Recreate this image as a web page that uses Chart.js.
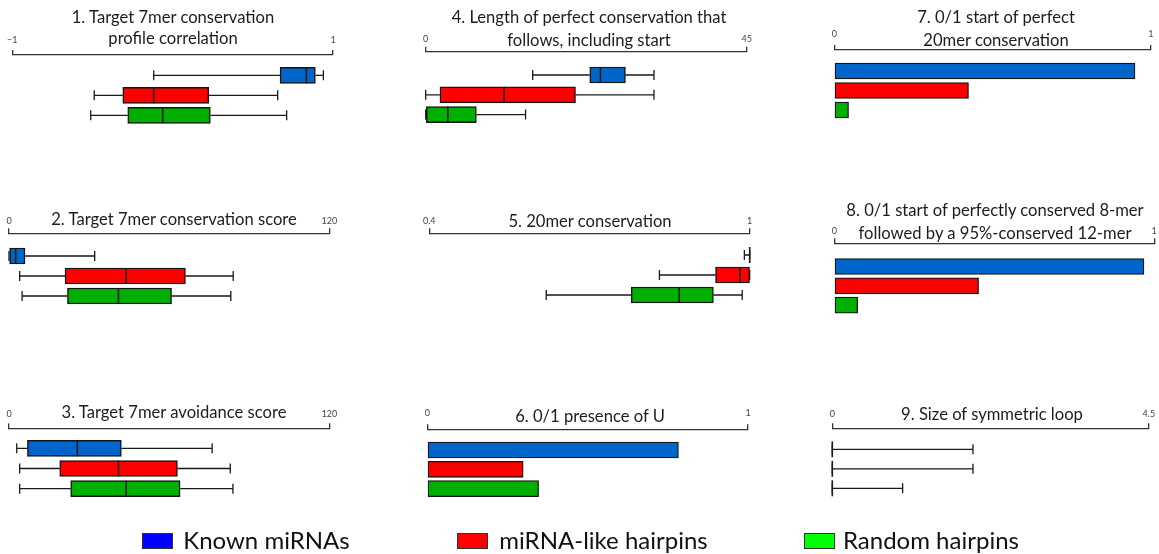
<!DOCTYPE html>
<html>
<head>
<meta charset="utf-8">
<script src="https://cdn.jsdelivr.net/npm/chart.js@4.4.1/dist/chart.umd.min.js"></script>
<style>
  html, body { margin: 0; padding: 0; background: #ffffff; }
  #wrap { position: relative; width: 1159px; height: 554px; overflow: hidden; font-family: Lato, "Open Sans", sans-serif; }
  #wrap canvas { position: absolute; left: 0; top: 0; }
  .title { position: absolute; white-space: nowrap; font-size: 16.6px; line-height: 20px; color: #1c1c1c; transform: translateX(-50%); }
  .swatch { position: absolute; width: 31px; height: 16px; border: 1px solid #333; box-sizing: border-box; }
  .legend-text { position: absolute; white-space: nowrap; font-size: 24px; line-height: 26px; color: #111; }
</style>
</head>
<body>
<div id="wrap"></div>
<script>
// ---- groups ----
const groups = ['Known miRNAs', 'miRNA-like hairpins', 'Random hairpins'];

// ---- box statistics: [lower whisker, Q1, median, Q3, upper whisker] ----
const corrKnown  = [-0.118, 0.670, 0.834, 0.890, 0.940];
const corrLike   = [-0.489, -0.311, -0.118, 0.225, 0.655];
const corrRandom = [-0.511, -0.280, -0.062, 0.235, 0.711];

const consScoreKnown  = [0, 0, 2.5, 6.0, 32.1];
const consScoreLike   = [4.0, 21.0, 43.9, 66.1, 84.0];
const consScoreRandom = [4.9, 21.9, 41.0, 60.9, 83.1];

const avoidKnown  = [2.9, 6.9, 25.6, 42.1, 76.1];
const avoidLike   = [4.0, 19.0, 41.0, 63.1, 82.9];
const avoidRandom = [4.0, 23.1, 43.9, 64.1, 83.9];

const runKnown  = [15.0, 23.0, 24.5, 28.0, 32.0];
const runLike   = [0, 2.0, 11.0, 21.0, 32.0];
const runRandom = [0, 0, 3.1, 7.1, 14.0];

const cons20Known  = [0.99, 1, 1, 1, 1];
const cons20Like   = [0.831, 0.936, 0.982, 1, 1];
const cons20Random = [0.619, 0.778, 0.868, 0.932, 0.986];

const loopKnown  = [0, 0, 0, 0, 2];
const loopLike   = [0, 0, 0, 0, 2];
const loopRandom = [0, 0, 0, 0, 1];

// ---- fractions (0/1 features) ----
const presenceU   = [0.783, 0.299, 0.347];
const start20mer  = [0.950, 0.424, 0.045];
const start8mer12 = [0.968, 0.451, 0.073];

// ---- axis ranges and end labels ----
const rangeCorr = [-1, 1],   labelsCorr = ['\u22121', '1'];
const rangeScore = [0, 120], labelsScore = ['0', '120'];
const rangeRun = [0, 45],    labelsRun = ['0', '45'];
const rangeCons = [0.4, 1],  labelsCons = ['0.4', '1'];
const rangeFrac = [0, 1],    labelsFrac = ['0', '1'];
const rangeLoop = [0, 4.5],  labelsLoop = ['0', '4.5'];

// ---- colours ----
const boxColors = ['#0066cc', '#ff0000', '#00b000'];
const legendColors = ['#0000ff', '#ff0000', '#00ff00'];

// ---- panels ----
const panels = [
  { title: ['1. Target 7mer conservation', 'profile correlation'], stats: [corrKnown, corrLike, corrRandom], range: rangeCorr, labels: labelsCorr,
    x0: 12.3, x1: 333, axisY: 55, row0: 75.3, gap: 20, labelOff: 15, tx: 173, ty: [17, 38] },
  { title: ['2. Target 7mer conservation score'], stats: [consScoreKnown, consScoreLike, consScoreRandom], range: rangeScore, labels: labelsScore,
    x0: 9, x1: 329.3, axisY: 233.3, row0: 256, gap: 20, labelOff: 12.6, tx: 174, ty: [219] },
  { title: ['3. Target 7mer avoidance score'], stats: [avoidKnown, avoidLike, avoidRandom], range: rangeScore, labels: labelsScore,
    x0: 9, x1: 329.3, axisY: 428.3, row0: 448.3, gap: 20.2, labelOff: 14.3, tx: 174, ty: [412.7] },
  { title: ['4. Length of perfect conservation that', 'follows, including start'], stats: [runKnown, runLike, runRandom], range: rangeRun, labels: labelsRun,
    x0: 425.7, x1: 746.7, axisY: 51.7, row0: 75, gap: 19.8, labelOff: 12.7, tx: 589, ty: [17, 40] },
  { title: ['5. 20mer conservation'], stats: [cons20Known, cons20Like, cons20Random], range: rangeCons, labels: labelsCons,
    x0: 429.3, x1: 749.7, axisY: 233.3, row0: 255, gap: 20, labelOff: 12.6, tx: 590, ty: [221.7] },
  { title: ['6. 0/1 presence of U'], values: presenceU, range: rangeFrac, labels: labelsFrac,
    x0: 427.3, x1: 748, axisY: 429.3, row0: 450, gap: 19.3, labelOff: 16, tx: 590, ty: [416] },
  { title: ['7. 0/1 start of perfect', '20mer conservation'], values: start20mer, range: rangeFrac, labels: labelsFrac,
    x0: 834.3, x1: 1154.7, axisY: 50, row0: 71, gap: 19.5, labelOff: 16, tx: 996, ty: [17, 40] },
  { title: ['8. 0/1 start of perfectly conserved 8-mer', 'followed by a 95%-conserved 12-mer'], values: start8mer12, range: rangeFrac, labels: labelsFrac,
    x0: 834.3, x1: 1154.7, axisY: 243.3, row0: 266.5, gap: 19.3, labelOff: 12.6, tx: 995, ty: [210, 233] },
  { title: ['9. Size of symmetric loop'], stats: [loopKnown, loopLike, loopRandom], range: rangeLoop, labels: labelsLoop,
    x0: 832.3, x1: 1153.3, axisY: 428.3, row0: 449.3, gap: 19.5, labelOff: 14.3, tx: 992, ty: [414] }
];

const W = 1159, H = 554;
const AXIS_BOX = 30;      // height reserved for the top axis
const PLOT_H = 100;       // height of each plot area below its axis
const TICK_LEN = 5;
const TICK_FONT = 9;
const CAP_H = 10;

// whiskers, caps and medians drawn on top of the floating-bar boxes
const boxWhiskers = {
  id: 'boxWhiskers',
  afterDatasetsDraw(chart, args, opts) {
    const stats = opts.stats;
    if (!stats) return;
    const xs = chart.scales.x;
    const meta = chart.getDatasetMeta(0);
    const ctx = chart.ctx;
    ctx.save();
    ctx.strokeStyle = '#1a1a1a';
    stats.forEach((s, i) => {
      const el = meta.data[i];
      const yc = el.y, h = el.height;
      const [lo, q1, med, q3, hi] = s.map(v => xs.getPixelForValue(v));
      ctx.lineWidth = 1.3;
      ctx.beginPath();
      if (q1 > lo) { ctx.moveTo(lo, yc); ctx.lineTo(q1, yc); }
      if (hi > q3) { ctx.moveTo(q3, yc); ctx.lineTo(hi, yc); }
      ctx.moveTo(lo, yc - CAP_H / 2); ctx.lineTo(lo, yc + CAP_H / 2);
      ctx.moveTo(hi, yc - CAP_H / 2); ctx.lineTo(hi, yc + CAP_H / 2);
      ctx.stroke();
      ctx.lineWidth = 1.6;
      ctx.beginPath();
      ctx.moveTo(med, yc - h / 2); ctx.lineTo(med, yc + h / 2);
      ctx.stroke();
    });
    ctx.restore();
  }
};

const wrap = document.getElementById('wrap');

panels.forEach((p) => {
  const canvas = document.createElement('canvas');
  canvas.width = W; canvas.height = H;
  wrap.appendChild(canvas);

  const isBox = !!p.stats;
  const data = isBox
    ? p.stats.map((s, i) => ({ x: [s[1], s[3]], y: i }))
    : p.values.map((v, i) => ({ x: v, y: i }));

  const yMin = -(p.row0 - p.axisY) / p.gap;
  const yMax = yMin + PLOT_H / p.gap;
  const lineH = TICK_FONT * 1.2;

  new Chart(canvas, {
    type: 'bar',
    data: {
      datasets: [{
        data: data,
        backgroundColor: boxColors,
        borderColor: '#151515',
        borderWidth: isBox ? 1.5 : 1.3,
        borderSkipped: false,
        barThickness: 16
      }]
    },
    options: {
      indexAxis: 'y',
      responsive: false,
      animation: false,
      events: [],
      layout: {
        padding: { left: p.x0, right: W - p.x1, top: p.axisY - AXIS_BOX, bottom: H - p.axisY - PLOT_H }
      },
      scales: {
        x: {
          type: 'linear',
          position: 'top',
          offset: false,
          min: p.range[0],
          max: p.range[1],
          afterBuildTicks: (scale) => { scale.ticks = [{ value: p.range[0] }, { value: p.range[1] }]; },
          afterFit: (scale) => { scale.height = AXIS_BOX; },
          ticks: {
            autoSkip: false, maxRotation: 0, minRotation: 0,
            padding: Math.max(0, p.labelOff - TICK_LEN - lineH / 2),
            font: { family: 'Lato, sans-serif', size: TICK_FONT },
            color: '#444',
            callback: (value, index) => p.labels[index]
          },
          grid: { drawOnChartArea: false, drawTicks: true, tickLength: TICK_LEN, color: '#333', lineWidth: 1.3 },
          border: { display: true, color: '#333', width: 1.3 }
        },
        y: {
          type: 'linear',
          reverse: true,
          display: false,
          offset: false,
          grid: { offset: false },
          min: yMin,
          max: yMax
        }
      },
      plugins: {
        legend: { display: false },
        tooltip: { enabled: false },
        title: { display: false },
        boxWhiskers: { stats: isBox ? p.stats : null }
      }
    },
    plugins: [boxWhiskers]
  });

  p.title.forEach((line, k) => {
    const d = document.createElement('div');
    d.className = 'title';
    d.textContent = line;
    d.style.left = p.tx + 'px';
    d.style.top = (p.ty[k] - 10.5) + 'px';
    wrap.appendChild(d);
  });
});

// legend
const legendSwatchX = [141.7, 457.3, 803.5];
const legendTextX = [183.3, 499.3, 843];
groups.forEach((g, i) => {
  const sw = document.createElement('div');
  sw.className = 'swatch';
  sw.style.left = legendSwatchX[i] + 'px';
  sw.style.top = '532.5px';
  sw.style.background = legendColors[i];
  wrap.appendChild(sw);
  const t = document.createElement('div');
  t.className = 'legend-text';
  t.textContent = g;
  t.style.left = legendTextX[i] + 'px';
  t.style.top = '527px';
  wrap.appendChild(t);
});
</script>
</body>
</html>
